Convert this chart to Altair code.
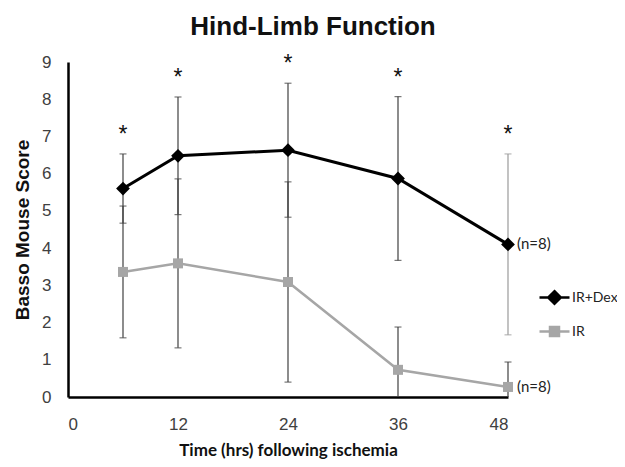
import altair as alt
import pandas as pd

# ---- data ----
times = [6, 12, 24, 36, 48]
dex_mean = [5.60, 6.48, 6.63, 5.87, 4.10]
dex_err = [0.93, 1.58, 1.80, 2.20, 2.43]
ir_mean = [3.36, 3.59, 3.09, 0.73, 0.27]
ir_err = [1.77, 2.27, 2.69, 1.15, 0.67]
series_names = ["IR+Dex", "IR"]
x_ticks = [0, 12, 24, 36, 48]
n_label = "(n=8)"
star = "*"

rows = []
for name, means, errs in [("IR+Dex", dex_mean, dex_err), ("IR", ir_mean, ir_err)]:
    for t, m, e in zip(times, means, errs):
        rows.append(dict(series=name, t=t, mean=m, err=e,
                         hi=m + e, lo=max(0.0, m - e), lo_raw=m - e))
df = pd.DataFrame(rows)

BLACK = "#000000"
GREY = "#a6a6a6"
BAR = "#404040"

x_axis = alt.Axis(values=x_ticks, title="Time (hrs) following ischemia",
                  ticks=False, grid=False, domainColor="black", domainWidth=2.5,
                  labelFont="Liberation Sans", labelFontSize=17, labelColor="#404040",
                  labelPadding=19, titleFont="Lato", titleFontSize=17,
                  titleFontWeight="bold", titleColor="#111111", titlePadding=10)
y_axis = alt.Axis(values=list(range(10)), title="Basso Mouse Score",
                  ticks=False, grid=False, domainColor="black", domainWidth=2.5,
                  labelFont="Liberation Sans", labelFontSize=17, labelColor="#404040",
                  labelPadding=17, titleFont="Liberation Sans", titleFontSize=19,
                  titleFontWeight="bold", titleColor="#111111", titlePadding=9)

xs = alt.Scale(domain=[0, 48], nice=False, zero=False)
ys = alt.Scale(domain=[0, 9], nice=False)

def X():
    return alt.X("t:Q", scale=xs, axis=x_axis)

def Y(field):
    return alt.Y(f"{field}:Q", scale=ys, axis=y_axis)

base = alt.Chart(df)

bar_color = alt.condition("datum.series == 'IR+Dex' && datum.t == 48",
                          alt.value("#9a9a9a"), alt.value(BAR))

rules = base.mark_rule(strokeWidth=1.2).encode(
    x=X(), y=Y("lo"), y2="hi:Q", color=bar_color)
caps_hi = base.mark_tick(orient="horizontal", size=7, thickness=1.2).encode(
    x=X(), y=Y("hi"), color=bar_color)
caps_lo = base.transform_filter("datum.lo_raw > 0").mark_tick(
    orient="horizontal", size=7, thickness=1.2).encode(
    x=X(), y=Y("lo"), color=bar_color)

line_ir = base.transform_filter("datum.series == 'IR'").mark_line(
    color=GREY, strokeWidth=2.5).encode(x=X(), y=Y("mean"))
line_dex = base.transform_filter("datum.series == 'IR+Dex'").mark_line(
    color=BLACK, strokeWidth=3).encode(x=X(), y=Y("mean"))
pts_ir = base.transform_filter("datum.series == 'IR'").mark_point(
    shape="square", filled=True, size=100, color=GREY, opacity=1).encode(x=X(), y=Y("mean"))
pts_dex = base.transform_filter("datum.series == 'IR+Dex'").mark_point(
    shape="diamond", filled=True, size=190, color=BLACK, opacity=1).encode(x=X(), y=Y("mean"))

stars = base.transform_filter("datum.series == 'IR+Dex'").mark_text(
    text=star, font="Liberation Sans", fontSize=23, baseline="alphabetic", dy=-12,
    color="#111111").encode(x=X(), y=Y("hi"))

nlab = base.transform_filter("datum.t == 48").mark_text(
    text=n_label, font="Lato", fontSize=15, align="left", baseline="middle", dx=9,
    color="#222222").encode(x=X(), y=Y("mean"))

dex_path = "M-1,0H1M0,-0.42L0.42,0L0,0.42L-0.42,0Z"
ir_path = "M-1,0H1M-0.3,-0.3H0.3V0.3H-0.3Z"
legend = alt.Legend(title=None, orient="none", legendX=470, legendY=219,
                    symbolSize=900, symbolStrokeWidth=2.5, labelFont="Lato",
                    labelFontSize=14, labelColor="#222222", labelOffset=1,
                    rowPadding=6, padding=0)
legend_layer = base.transform_filter("datum.series == 'none'").mark_point(
    filled=True, opacity=1).encode(
    x=X(), y=Y("mean"),
    fill=alt.Fill("series:N", scale=alt.Scale(domain=series_names, range=[BLACK, GREY]), legend=legend),
    stroke=alt.Stroke("series:N", scale=alt.Scale(domain=series_names, range=[BLACK, GREY]), legend=legend),
    shape=alt.Shape("series:N", scale=alt.Scale(domain=series_names, range=[dex_path, ir_path]), legend=legend),
)

chart = alt.layer(rules, caps_hi, caps_lo, line_ir, line_dex, pts_ir, pts_dex,
                  stars, nlab, legend_layer).properties(
    width=440, height=335,
    autosize=alt.AutoSizeParams(type="none"),
    padding={"left": 60, "top": 54, "right": 109, "bottom": 62},
    title=alt.TitleParams("Hind-Limb Function", font="Liberation Sans", fontSize=26,
                          fontWeight="bold", color="#111111", anchor="middle",
                          dx=25, offset=13),
).configure_view(stroke=None)

chart.save("out.html", embed_options={"renderer": "svg", "actions": False})
